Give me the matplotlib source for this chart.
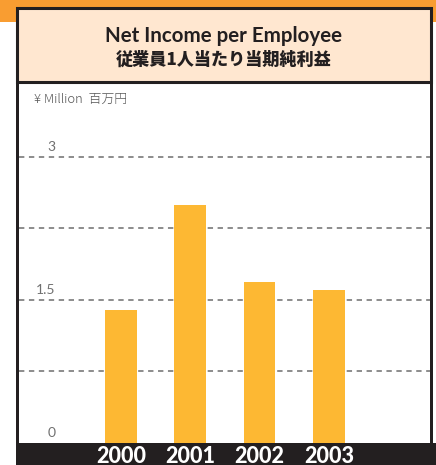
import matplotlib
matplotlib.use("Agg")
import matplotlib.pyplot as plt
from matplotlib.patches import Rectangle

years = ["2000", "2001", "2002", "2003"]
values = [1.40, 2.50, 1.69, 1.60]
yticks = [0, 0.75, 1.5, 2.25, 3]
ytick_labels = {0: "0", 1.5: "1.5", 3: "3"}

W, H = 436, 465
fig = plt.figure(figsize=(W / 100, H / 100), dpi=100)
fig.patch.set_facecolor("white")

def fx(px):
    return px / W

def fy(py):
    return 1 - py / H

dark = "#231F20"
orange = "#F99D31"
bar_color = "#FDB833"
peach = "#FFE7D0"
latin = ["Lato", "DejaVu Sans"]

# orange top band
fig.patches.append(Rectangle((0, fy(22)), 1, 22 / H, transform=fig.transFigure,
                             facecolor=orange, edgecolor="none", zorder=0))
# panel white
fig.patches.append(Rectangle((fx(17), 0), fx(432) - fx(17), fy(8), transform=fig.transFigure,
                             facecolor="white", edgecolor="none", zorder=1))

# main axes
ax = fig.add_axes([fx(19), fy(443), fx(430) - fx(19), fy(95) - fy(443)])
ax.set_zorder(2)
ax.set_facecolor("none")
x = list(range(len(years)))
ax.bar(x, values, width=0.46, color=bar_color, zorder=3)
ax.set_xlim(-1.47, 4.46)
ax.set_ylim(0, 3.65)
for t in yticks[1:]:
    ax.axhline(t, color="#6d6d6d", lw=1.1, ls=(0, (3.5, 3)), zorder=2)
for s in ax.spines.values():
    s.set_visible(False)
ax.set_xticks([])
ax.set_yticks([])
for t, lab in ytick_labels.items():
    ax.text(-0.94, t + 0.04, lab, ha="right", va="bottom", fontsize=10,
            color="#707070", family=latin, fontweight="normal")

# bottom dark band
fig.patches.append(Rectangle((fx(16), 0), 1 - fx(16), fy(443), transform=fig.transFigure,
                             facecolor=dark, edgecolor="none", zorder=4))
for xi, yr in zip(x, years):
    xf = fx(19) + (xi + 1.47) / (4.46 + 1.47) * (fx(430) - fx(19))
    fig.text(xf, fy(456), yr, ha="center", va="center", fontsize=15.5, color="white",
             fontweight="black", family=latin, zorder=5)

# panel borders
fig.patches.append(Rectangle((fx(15.5), 0), fx(3), fy(8), transform=fig.transFigure,
                             facecolor=dark, edgecolor="none", zorder=6))
fig.patches.append(Rectangle((fx(430), 0), fx(2.5), fy(8), transform=fig.transFigure,
                             facecolor=dark, edgecolor="none", zorder=6))

# title box
fig.patches.append(Rectangle((fx(17), fy(82)), fx(431) - fx(17), fy(8) - fy(82),
                             transform=fig.transFigure, facecolor=peach,
                             edgecolor=dark, lw=2.2, zorder=7))
fig.text(fx(223), fy(36), "Net Income per Employee", ha="center", va="center",
         fontsize=14.8, fontweight="bold", color=dark, family=latin, zorder=8)
fig.text(fx(224), fy(60), "従業員1人当たり当期純利益", ha="center", va="center",
         fontsize=12.3, fontweight="black", color=dark,
         family=["Noto Sans CJK JP", "DejaVu Sans"], zorder=8)

fig.text(fx(34), fy(99), "¥ Million  百万円", ha="left", va="center", fontsize=9.3,
         color="#555555", family=["Noto Sans CJK JP", "DejaVu Sans"], zorder=8,
         fontweight="light")

fig.savefig("out.png", dpi=100, facecolor="white")
